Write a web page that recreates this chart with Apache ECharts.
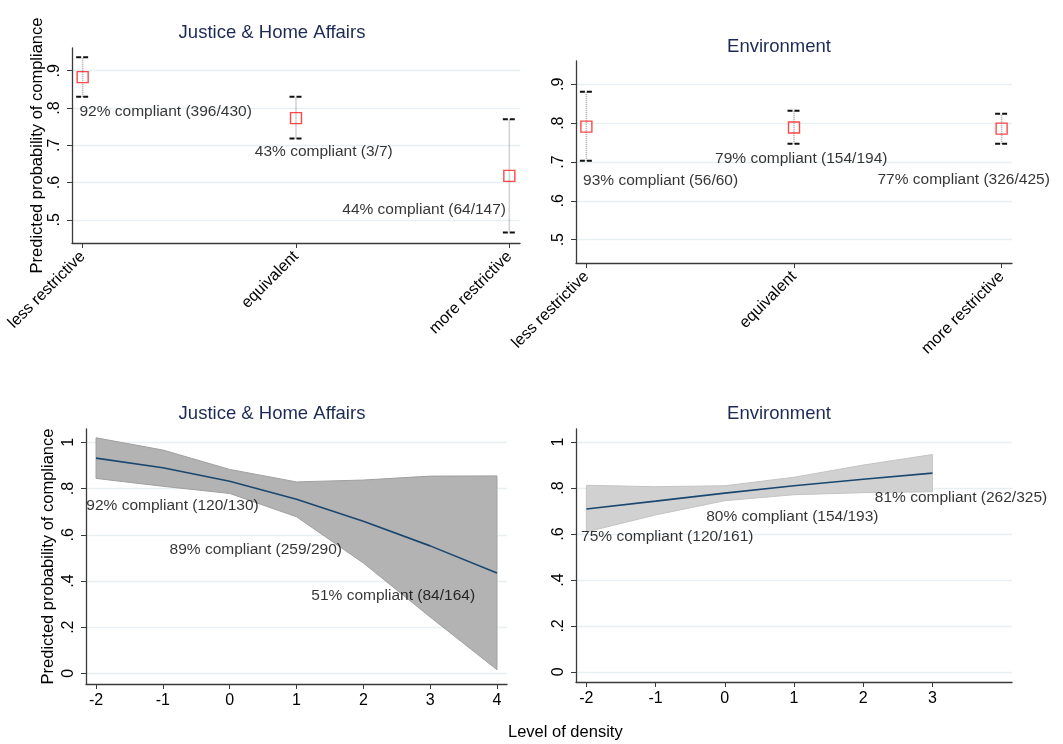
<!DOCTYPE html>
<html>
<head>
<meta charset="utf-8">
<script src="https://cdn.jsdelivr.net/npm/echarts@6/dist/echarts.min.js"></script>
<style>
html,body{margin:0;padding:0;background:#fff;}
#chart{width:1063px;height:744px;}
</style>
</head>
<body>
<div id="chart"></div>
<script>
// ---------- data ----------
var categories = ['less restrictive', 'equivalent', 'more restrictive'];
var catIndex = [0, 1, 2];

// Top-left: Justice & Home Affairs (by category)
var jhaCatPoint = [0.883, 0.773, 0.618];
var jhaCatLow   = [0.830, 0.718, 0.466];
var jhaCatHigh  = [0.936, 0.830, 0.770];
var jhaCatNotes = ['92% compliant (396/430)', '43% compliant (3/7)', '44% compliant (64/147)'];
var jhaCatNoteX = [-0.015, 0.807, 1.217];
var jhaCatNoteY = [0.789, 0.682, 0.527];

// Top-right: Environment (by category)
var envCatPoint = [0.791, 0.789, 0.786];
var envCatLow   = [0.703, 0.747, 0.747];
var envCatHigh  = [0.881, 0.832, 0.824];
var envCatNotes = ['93% compliant (56/60)', '79% compliant (154/194)', '77% compliant (326/425)'];
var envCatNoteX = [-0.016, 0.62, 1.402];
var envCatNoteY = [0.652, 0.709, 0.655];

// Bottom-left: Justice & Home Affairs (by density)
var jhaDensity = [-2, -1, 0, 1, 2, 3, 4];
var jhaFit  = [0.932, 0.890, 0.832, 0.754, 0.659, 0.552, 0.435];
var jhaUp   = [1.020, 0.967, 0.883, 0.829, 0.837, 0.854, 0.855];
var jhaLo   = [0.844, 0.810, 0.779, 0.678, 0.478, 0.244, 0.016];
var jhaDenNotes = ['92% compliant (120/130)', '89% compliant (259/290)', '51% compliant (84/164)'];
var jhaDenNoteX = [-2.145, -0.899, 1.222];
var jhaDenNoteY = [0.725, 0.537, 0.335];

// Bottom-right: Environment (by density)
var envDensity = [-2, -1, 0, 1, 2, 3];
var envFit  = [0.709, 0.743, 0.778, 0.810, 0.838, 0.865];
var envUp   = [0.812, 0.806, 0.810, 0.847, 0.900, 0.946];
var envLo   = [0.609, 0.683, 0.745, 0.771, 0.780, 0.784];
var envDenNotes = ['75% compliant (120/161)', '80% compliant (154/193)', '81% compliant (262/325)'];
var envDenNoteX = [-2.076, -0.269, 2.168];
var envDenNoteY = [0.587, 0.674, 0.757];

var topYTicks = [0.5, 0.6, 0.7, 0.8, 0.9];
var botYTicks = [0, 0.2, 0.4, 0.6, 0.8, 1];
var jhaXTicks = [-2, -1, 0, 1, 2, 3, 4];
var envXTicks = [-2, -1, 0, 1, 2, 3];

// ---------- styling ----------
var FONT = 'Liberation Sans, Arial, Helvetica, sans-serif';
var TITLE_COLOR = '#1d2a55';
var AXIS_COLOR = '#3a3a3a';
var GRID_COLOR = '#e7eff1';

function fmtProb(v) {
  var r = Math.round(v * 10) / 10;
  if (r === 0) return '0';
  if (r === 1) return '1';
  return ('' + r).replace(/^0/, '');
}

function yAxis(grid, min, max, ticks, name, nameGap) {
  return {
    type: 'value', gridIndex: grid, min: min, max: max,
    name: name || '', nameLocation: 'middle', nameGap: nameGap || 0,
    nameTextStyle: { fontFamily: FONT, fontSize: 16.5, color: '#000' },
    axisLine: { show: true, onZero: false, lineStyle: { color: AXIS_COLOR, width: 1.3 } },
    axisTick: { show: true, length: 5, customValues: ticks, lineStyle: { color: AXIS_COLOR } },
    axisLabel: { customValues: ticks, rotate: 90, margin: 9, fontFamily: FONT, fontSize: 16, color: '#000', formatter: fmtProb },
    splitLine: { show: true, lineStyle: { color: GRID_COLOR, width: 1.3 } }
  };
}

function xCatAxis(grid) {
  return {
    type: 'value', gridIndex: grid, min: -0.05, max: 2.05,
    axisLine: { show: true, onZero: false, lineStyle: { color: AXIS_COLOR, width: 1.3 } },
    axisTick: { show: true, length: 5, customValues: catIndex, lineStyle: { color: AXIS_COLOR } },
    axisLabel: { customValues: catIndex, rotate: 45, margin: 11, fontFamily: FONT, fontSize: 16, color: '#000',
      formatter: function (v) { return categories[Math.round(v)]; } },
    splitLine: { show: false }
  };
}

function xDenAxis(grid, ticks) {
  return {
    type: 'value', gridIndex: grid, min: -2.15, max: 4.15,
    axisLine: { show: true, onZero: false, lineStyle: { color: AXIS_COLOR, width: 1.3 } },
    axisTick: { show: true, length: 5, customValues: ticks, lineStyle: { color: AXIS_COLOR } },
    axisLabel: { customValues: ticks, margin: 9, fontFamily: FONT, fontSize: 16, color: '#000',
      formatter: function (v) { return '' + Math.round(v); } },
    splitLine: { show: false }
  };
}

function ciSeries(ax, low, high) {
  var data = catIndex.map(function (c, i) { return [c, low[i], high[i]]; });
  return {
    type: 'custom', xAxisIndex: ax, yAxisIndex: ax, data: data, z: 2,
    renderItem: function (params, api) {
      var lo = api.coord([api.value(0), api.value(1)]);
      var hi = api.coord([api.value(0), api.value(2)]);
      var hw = 6.5;
      return {
        type: 'group',
        children: [
          { type: 'line', shape: { x1: lo[0], y1: lo[1], x2: hi[0], y2: hi[1] },
            style: { stroke: '#a8a8a8', lineWidth: 1.6, lineDash: [1, 1] } },
          { type: 'line', shape: { x1: hi[0] - hw, y1: hi[1], x2: hi[0] + hw, y2: hi[1] },
            style: { stroke: '#111', lineWidth: 2, lineDash: [5, 2] } },
          { type: 'line', shape: { x1: lo[0] - hw, y1: lo[1], x2: lo[0] + hw, y2: lo[1] },
            style: { stroke: '#111', lineWidth: 2, lineDash: [5, 2] } }
        ]
      };
    }
  };
}

function pointSeries(ax, vals) {
  return {
    type: 'scatter', xAxisIndex: ax, yAxisIndex: ax, z: 3,
    data: catIndex.map(function (c, i) { return [c, vals[i]]; }),
    symbol: 'rect', symbolSize: 11,
    itemStyle: { color: 'rgba(255,255,255,0)', borderColor: '#ff1a1a', borderWidth: 1.4 },
    emphasis: { disabled: true }
  };
}

function noteSeries(ax, xs, ys, texts) {
  return {
    type: 'scatter', xAxisIndex: ax, yAxisIndex: ax, z: 5, symbolSize: 0, silent: true,
    data: xs.map(function (x, i) { return { value: [x, ys[i]], name: texts[i] }; }),
    label: { show: true, position: 'right', distance: 0, formatter: '{b}',
      fontFamily: FONT, fontSize: 15.5, color: '#000' }
  };
}

function bandSeries(ax, xs, lo, hi, fill, edge) {
  var rows = xs.map(function (x, i) { return [x, lo[i], hi[i]]; });
  return {
    type: 'custom', xAxisIndex: ax, yAxisIndex: ax, data: rows, z: 1, silent: true,
    renderItem: function (params, api) {
      if (params.dataIndex !== 0) return null;
      var pts = [];
      rows.forEach(function (r) { pts.push(api.coord([r[0], r[2]])); });
      for (var i = rows.length - 1; i >= 0; i--) pts.push(api.coord([rows[i][0], rows[i][1]]));
      return { type: 'polygon', shape: { points: pts },
        style: { fill: fill, stroke: edge, lineWidth: 1 } };
    }
  };
}

function fitSeries(ax, xs, ys) {
  return {
    type: 'line', xAxisIndex: ax, yAxisIndex: ax, z: 3,
    data: xs.map(function (x, i) { return [x, ys[i]]; }),
    showSymbol: false, symbol: 'none',
    lineStyle: { color: '#1a476f', width: 1.6 }
  };
}

function title(text, cx, cy) {
  return { text: text, left: cx, top: cy - 10, textAlign: 'center', padding: 0,
    textStyle: { fontFamily: FONT, fontSize: 18.5, fontWeight: 'normal', color: TITLE_COLOR } };
}

var option = {
  backgroundColor: '#ffffff',
  animation: false,
  title: [
    title('Justice & Home Affairs', 272, 33),
    title('Environment', 779, 47),
    title('Justice & Home Affairs', 272, 414),
    title('Environment', 779, 414)
  ],
  grid: [
    { left: 72, top: 48, width: 448, height: 195 },
    { left: 576, top: 61, width: 436, height: 202 },
    { left: 86, top: 429, width: 421, height: 255 },
    { left: 576, top: 429, width: 436, height: 253 }
  ],
  xAxis: [
    xCatAxis(0),
    xCatAxis(1),
    xDenAxis(2, jhaXTicks),
    xDenAxis(3, envXTicks)
  ],
  yAxis: [
    yAxis(0, 0.438, 0.961, topYTicks, 'Predicted probability of compliance', 26),
    yAxis(1, 0.44, 0.96, topYTicks),
    yAxis(2, -0.046, 1.058, botYTicks, 'Predicted probability of compliance', 29),
    yAxis(3, -0.044, 1.057, botYTicks)
  ],
  graphic: [
    { type: 'text', left: 508, top: 724, style: { text: 'Level of density', fontFamily: FONT, fontSize: 16.5, fill: '#000', textAlign: 'center' } }
  ],
  series: [
    ciSeries(0, jhaCatLow, jhaCatHigh),
    pointSeries(0, jhaCatPoint),
    noteSeries(0, jhaCatNoteX, jhaCatNoteY, jhaCatNotes),
    ciSeries(1, envCatLow, envCatHigh),
    pointSeries(1, envCatPoint),
    noteSeries(1, envCatNoteX, envCatNoteY, envCatNotes),
    bandSeries(2, jhaDensity, jhaLo, jhaUp, '#b3b3b3', '#a0a0a0'),
    fitSeries(2, jhaDensity, jhaFit),
    noteSeries(2, jhaDenNoteX, jhaDenNoteY, jhaDenNotes),
    bandSeries(3, envDensity, envLo, envUp, '#d1d1d1', '#c4c4c4'),
    fitSeries(3, envDensity, envFit),
    noteSeries(3, envDenNoteX, envDenNoteY, envDenNotes)
  ]
};

var chart = echarts.init(document.getElementById('chart'), null, { renderer: 'canvas' });
chart.setOption(option);
</script>
</body>
</html>
